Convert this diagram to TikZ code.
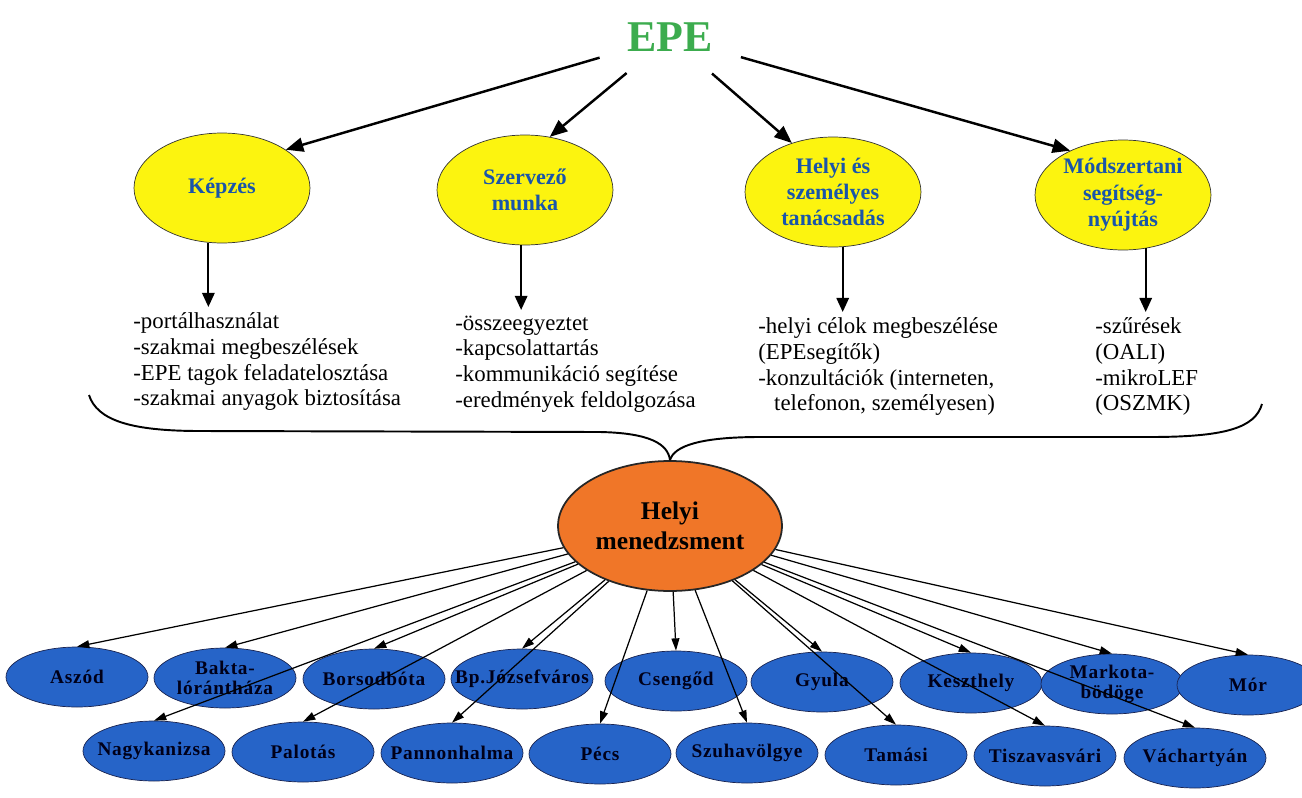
\documentclass[tikz,border=0pt]{standalone}
\usepackage{fontspec}
\setmainfont{Liberation Serif}
\usetikzlibrary{shapes.geometric,arrows.meta}

\definecolor{epegreen}{RGB}{60,172,78}
\definecolor{areayellow}{RGB}{252,244,15}
\definecolor{areatext}{RGB}{25,85,170}
\definecolor{mgmtorange}{RGB}{240,118,40}
\definecolor{townblue}{RGB}{38,100,200}
\definecolor{townline}{RGB}{25,35,80}

\tikzset{
  area/.style      = {ellipse, draw=black!80, fill=areayellow, minimum width=3.52cm, minimum height=2.2cm,
                      inner sep=0pt, align=center, text=areatext, font=\bfseries\fontsize{12.6}{15}\selectfont},
  tasks/.style     = {anchor=north west, inner xsep=0pt, inner ysep=3pt, align=left,
                      font=\fontsize{13}{14.7}\selectfont},
  town/.style      = {ellipse, draw=townline, fill=townblue, minimum width=2.84cm, minimum height=1.2cm,
                      inner sep=0pt, label={[townlabel]center:#1}},
  townlabel/.style = {align=center, text=black!90!blue,
                      font=\bfseries\fontsize{11}{11.5}\selectfont\addfontfeatures{LetterSpace=4}},
  toparrow/.style  = {-{Triangle[length=10pt,width=8pt]}, line width=1.4pt},
  downarrow/.style = {-{Triangle[length=8pt,width=7pt]}, line width=1.2pt},
  townarrow/.style = {-{Triangle[length=7pt,width=4.5pt]}, line width=0.7pt},
}

\begin{document}
\begin{tikzpicture}[x=0.02cm, y=-0.02cm]
    \useasboundingbox (0,0) rectangle (1302,798);

    % top
    \node[ellipse, minimum width=3.2cm, minimum height=1.7cm, inner sep=0pt, text=epegreen,
          font=\bfseries\fontsize{25}{30}\selectfont] (epe) at (670,37) {EPE};

    % four fields of work
    \node[area] (kepzes)   at ( 222,188) {Képzés};
    \node[area] (szervezo) at ( 525,190) {Szervező\\munka};
    \node[area] (tanacs)   at ( 833,192) {Helyi és\\személyes\\tanácsadás};
    \node[area] (modszer)  at (1123,195) {Módszertani\\segítség-\\nyújtás};

    \draw[toparrow] (epe) -- (kepzes.31);
    \draw[toparrow] (epe) -- (szervezo.65);
    \draw[toparrow] (epe) -- (tanacs.130);
    \draw[toparrow] (epe) -- (modszer.140);

    % task lists
    \node[tasks] (kl) at ( 133,307) {-portálhasználat\\-szakmai megbeszélések\\-EPE tagok feladatelosztása\\-szakmai anyagok biztosítása};
    \node[tasks] (sl) at ( 455,310) {-összeegyeztet\\-kapcsolattartás\\-kommunikáció segítése\\-eredmények feldolgozása};
    \node[tasks] (hl) at ( 758,312) {-helyi célok megbeszélése\\(EPEsegítők)\\-konzultációk (interneten,\\\hspace*{9pt}telefonon, személyesen)};
    \node[tasks] (ml) at (1095,312) {-szűrések\\(OALI)\\-mikroLEF\\(OSZMK)};

    \draw[downarrow] (kepzes.256)   -- (kepzes.256 |- kl.north);
    \draw[downarrow] (szervezo.266) -- (szervezo.266 |- sl.north);
    \draw[downarrow] (tanacs.280)   -- (tanacs.280 |- hl.north);
    \draw[downarrow] (modszer.293)  -- (modszer.293 |- ml.north);

    % local management and the brace above it
    \node[ellipse, draw=black!85, line width=1pt, fill=mgmtorange, minimum width=4.48cm, minimum height=2.6cm,
          inner sep=0pt, align=center, font=\bfseries\fontsize{14.5}{17}\selectfont] (hm) at (670,526) {Helyi\\menedzsment};

    \draw[line width=1.1pt] (89,395) .. controls (97,420) and (130,431) .. (200,431) -- (600,432)
                            .. controls (650,433) and (668,444) .. (hm.north);
    \draw[line width=1.1pt] (hm.north) .. controls (674,446) and (700,437) .. (760,437) -- (1150,437)
                            .. controls (1225,437) and (1255,428) .. (1262,404);

    % towns, row 1
    \node[town={Aszód}]               (aszod)    at (  77,677) {};
    \node[town={Bakta-\\lórántháza}]  (bakta)    at ( 225,678) {};
    \node[town={Borsodbóta}]          (borsod)   at ( 374,679) {};
    \node[town={Bp.Józsefváros}]      (bpjozsef) at ( 522,679) {};
    \node[town={Csengőd}]             (cseng)    at ( 676,681) {};
    \node[town={Gyula}]               (gyula)    at ( 822,682) {};
    \node[town={Keszthely}]           (keszt)    at ( 971,683) {};
    \node[town={Markota-\\bödöge}]    (markota)  at (1112,684) {};
    \node[town={Mór}]                 (mor)      at (1248,685) {};

    % towns, row 2
    \node[town={Nagykanizsa}]         (nagyk)    at ( 154,751) {};
    \node[town={Palotás}]             (palotas)  at ( 303,752) {};
    \node[town={Pannonhalma}]         (pannon)   at ( 452,753) {};
    \node[town={Pécs}]                (pecs)     at ( 600,754) {};
    \node[town={Szuhavölgye}]         (szuha)    at ( 747,753) {};
    \node[town={Tamási}]              (tamasi)   at ( 896,755) {};
    \node[town={Tiszavasvári}]        (tisza)    at (1045,756) {};
    \node[town={Váchartyán}]          (vachart)  at (1195,758) {};

    \draw[townarrow] (hm) -- (aszod.north);
    \draw[townarrow] (hm) -- (bakta.north);
    \draw[townarrow] (hm) -- (borsod.north);
    \draw[townarrow] (hm) -- (bpjozsef.north);
    \draw[townarrow] (hm) -- (cseng.north);
    \draw[townarrow] (hm) -- (gyula.north);
    \draw[townarrow] (hm) -- (keszt.north);
    \draw[townarrow] (hm) -- (markota.north);
    \draw[townarrow] (hm) -- (mor.north);
    \draw[townarrow] (hm) -- (nagyk.north);
    \draw[townarrow] (hm) -- (palotas.north);
    \draw[townarrow] (hm) -- (pannon.north);
    \draw[townarrow] (hm) -- (pecs.north);
    \draw[townarrow] (hm) -- (szuha.north);
    \draw[townarrow] (hm) -- (tamasi.north);
    \draw[townarrow] (hm) -- (tisza.north);
    \draw[townarrow] (hm) -- (vachart.north);
\end{tikzpicture}
\end{document}
